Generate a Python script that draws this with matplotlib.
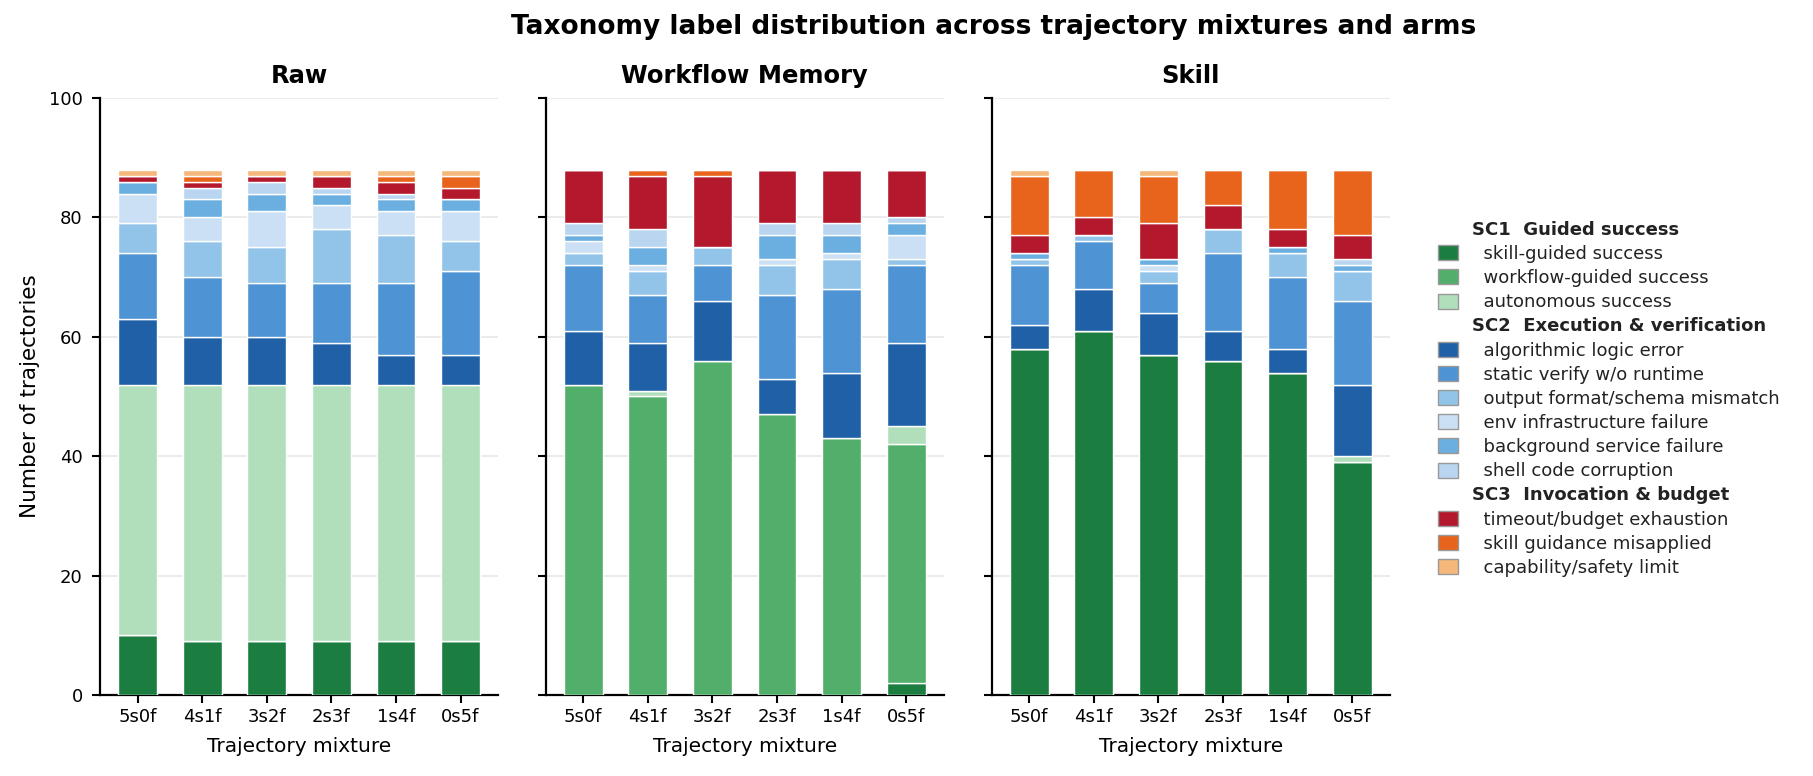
import matplotlib
matplotlib.use("Agg")
import matplotlib.pyplot as plt
from matplotlib.patches import Patch
import numpy as np

mixtures = ["5s0f", "4s1f", "3s2f", "2s3f", "1s4f", "0s5f"]
arms = ["Raw", "Workflow Memory", "Skill"]

categories = [
    "skill-guided success", "workflow-guided success", "autonomous success",
    "algorithmic logic error", "static verify w/o runtime", "output format/schema mismatch",
    "env infrastructure failure", "background service failure", "shell code corruption",
    "timeout/budget exhaustion", "skill guidance misapplied", "capability/safety limit",
]
colors = [
    "#1b7d40", "#52ae6b", "#b2dfbb",
    "#2060a7", "#4e94d4", "#92c4ea", "#cbe0f5", "#6aafe0", "#bad5ef",
    "#b3182c", "#e8631b", "#f5b87a",
]
groups = [
    ("SC1  Guided success", 0, 3),
    ("SC2  Execution & verification", 3, 9),
    ("SC3  Invocation & budget", 9, 12),
]

# counts per category (rows follow `categories`), columns follow `mixtures`
raw_counts = [
    [10, 9, 9, 9, 9, 9],
    [0, 0, 0, 0, 0, 0],
    [42, 43, 43, 43, 43, 43],
    [11, 8, 8, 7, 5, 5],
    [11, 10, 9, 10, 12, 14],
    [5, 6, 6, 9, 8, 5],
    [5, 4, 6, 4, 4, 5],
    [2, 3, 3, 2, 2, 2],
    [0, 2, 2, 1, 1, 0],
    [1, 1, 1, 2, 2, 2],
    [0, 1, 0, 0, 1, 2],
    [1, 1, 1, 1, 1, 1],
]
workflow_counts = [
    [0, 0, 0, 0, 0, 2],
    [52, 50, 56, 47, 43, 40],
    [0, 1, 0, 0, 0, 3],
    [9, 8, 10, 6, 11, 14],
    [11, 8, 6, 14, 14, 13],
    [2, 4, 3, 5, 5, 1],
    [2, 1, 0, 1, 1, 4],
    [1, 3, 0, 4, 3, 2],
    [2, 3, 0, 2, 2, 1],
    [9, 9, 12, 9, 9, 8],
    [0, 1, 1, 0, 0, 0],
    [0, 0, 0, 0, 0, 0],
]
skill_counts = [
    [58, 61, 57, 56, 54, 39],
    [0, 0, 0, 0, 0, 0],
    [0, 0, 0, 0, 0, 1],
    [4, 7, 7, 5, 4, 12],
    [10, 8, 5, 13, 12, 14],
    [1, 1, 2, 4, 4, 5],
    [0, 0, 1, 0, 0, 0],
    [1, 0, 1, 0, 1, 1],
    [0, 0, 0, 0, 0, 1],
    [3, 3, 6, 4, 3, 4],
    [10, 8, 8, 6, 10, 11],
    [1, 0, 1, 0, 0, 0],
]
panel_data = [raw_counts, workflow_counts, skill_counts]

plt.rcParams["font.family"] = ["DejaVu Sans"]

fig = plt.figure(figsize=(18.13, 7.76), dpi=100)
lefts = [0.0552, 0.3010, 0.5470]
width = 0.2195
bottom, top = 0.1044, 0.8737
axes = []
for i, l in enumerate(lefts):
    ax = fig.add_axes([l, bottom, width, top - bottom], sharey=axes[0] if axes else None)
    axes.append(ax)

x = np.arange(len(mixtures))
for ax, arm, counts in zip(axes, arms, panel_data):
    base = np.zeros(len(mixtures))
    for cat, col, vals in zip(categories, colors, counts):
        vals = np.array(vals, dtype=float)
        ax.bar(x, vals, width=0.6, bottom=base, color=col, edgecolor="white",
               linewidth=1.0, zorder=3)
        base += vals
    ax.set_ylim(0, 100)
    ax.set_yticks([0, 20, 40, 60, 80, 100])
    ax.set_xticks(x)
    ax.set_xticklabels(mixtures, fontsize=13)
    ax.set_xlabel("Trajectory mixture", fontsize=14.5, labelpad=8)
    ax.set_title(arm, fontsize=17.5, fontweight="bold", pad=11)
    ax.grid(axis="y", color="#e8e8e8", linewidth=1.2, zorder=0)
    ax.set_axisbelow(True)
    for s in ["top", "right"]:
        ax.spines[s].set_visible(False)
    for s in ["left", "bottom"]:
        ax.spines[s].set_linewidth(1.6)
    ax.tick_params(axis="x", length=6, width=1.5, labelsize=13, pad=3.5)
    ax.tick_params(axis="y", length=5.5, width=1.5, labelsize=13, pad=7)

axes[0].set_ylabel("Number of trajectories", fontsize=15.5, labelpad=6.5)
for ax in axes[1:]:
    ax.tick_params(axis="y", labelleft=False)

handles, labels = [], []
for name, a, b in groups:
    handles.append(Patch(facecolor="none", edgecolor="none"))
    labels.append(name)
    for k in range(a, b):
        handles.append(Patch(facecolor=colors[k], edgecolor="#999999", linewidth=1.0))
        labels.append("  " + categories[k])

leg = fig.legend(handles, labels, loc="center left", bbox_to_anchor=(0.784, 0.486),
                 frameon=False, fontsize=13, handlelength=1.1, handleheight=0.9,
                 handletextpad=0.8, labelspacing=0.34, labelcolor="#222222")
header_set = {g[0] for g in groups}
for t in leg.get_texts():
    if t.get_text() in header_set:
        t.set_fontweight("bold")

fig.suptitle("Taxonomy label distribution across trajectory mixtures and arms",
             fontsize=19, fontweight="bold", x=0.548, y=0.982)

fig.savefig("out.png", dpi=100)
